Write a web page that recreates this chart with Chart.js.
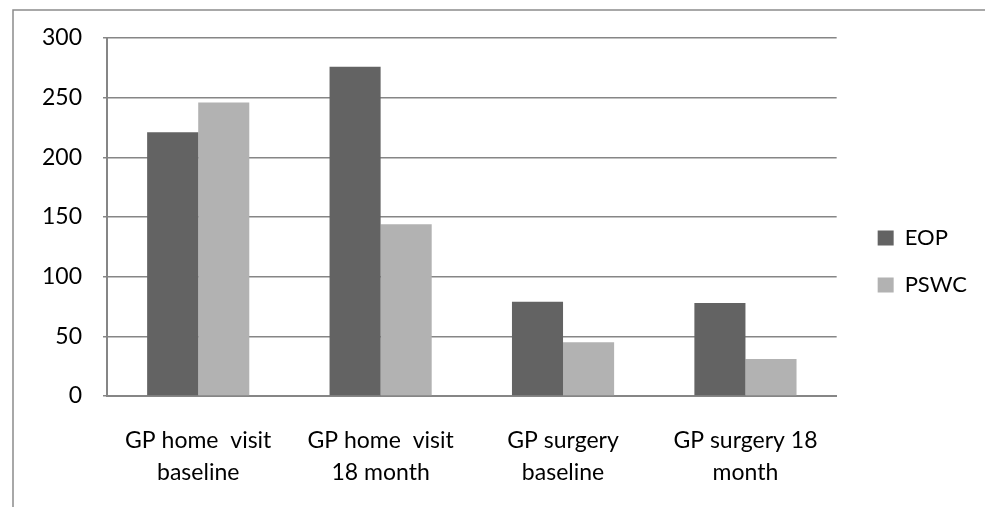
<!DOCTYPE html>
<html>
<head>
<meta charset="utf-8">
<script src="https://cdn.jsdelivr.net/npm/chart.js@4"></script>
<style>
  html, body { margin: 0; padding: 0; background: #ffffff; }
  #wrap { width: 986px; height: 507px; }
</style>
</head>
<body>
<div id="wrap"><canvas id="c" width="986" height="507"></canvas></div>
<script>
// Visit counts by setting and time point
const categories = [
  ['GP home  visit', 'baseline'],
  ['GP home  visit', '18 month'],
  ['GP surgery', 'baseline'],
  ['GP surgery 18', 'month']
];
const eopValues = [221, 276, 79, 78];
const pswcValues = [246, 144, 45, 31];
const seriesNames = ['EOP', 'PSWC'];

const AXIS_GREY = '#868686';
const FONT = { family: 'Lato, "Noto Sans", sans-serif', size: 23, lineHeight: 1.39 };

// Thin frame along the top and left of the figure
const frame = {
  id: 'frame',
  beforeDraw(chart) {
    const ctx = chart.ctx;
    ctx.save();
    ctx.fillStyle = '#ffffff';
    ctx.fillRect(0, 0, chart.width, chart.height);
    ctx.strokeStyle = '#8c8c8c';
    ctx.lineWidth = 1.5;
    ctx.beginPath();
    ctx.moveTo(13, chart.height);
    ctx.lineTo(13, 10);
    ctx.lineTo(chart.width - 1, 10);
    ctx.stroke();
    ctx.restore();
  }
};

// Nudge the legend a little away from the plot
const legendGap = {
  id: 'legendGap',
  afterLayout(chart) {
    if (chart.legend) {
      chart.legend.left += 16;
      chart.legend.right += 16;
    }
  }
};

new Chart(document.getElementById('c'), {
  type: 'bar',
  data: {
    labels: categories,
    datasets: [
      { label: seriesNames[0], data: eopValues, backgroundColor: '#636363', borderWidth: 0 },
      { label: seriesNames[1], data: pswcValues, backgroundColor: '#b2b2b2', borderWidth: 0 }
    ]
  },
  options: {
    responsive: false,
    animation: false,
    layout: { padding: { top: 38, bottom: 22, left: 0, right: 25 } },
    datasets: { bar: { categoryPercentage: 0.56, barPercentage: 1.0 } },
    plugins: {
      legend: {
        position: 'right',
        labels: {
          font: { family: FONT.family, size: 22 },
          color: '#000000',
          boxWidth: 16,
          boxHeight: 15,
          padding: 25
        }
      },
      tooltip: { enabled: false }
    },
    scales: {
      x: {
        grid: { display: false, drawTicks: false },
        border: { display: true, color: AXIS_GREY, width: 2 },
        ticks: { font: FONT, color: '#000000', padding: 29, maxRotation: 0, autoSkip: false },
        afterFit(scale) { scale.height = 89; }
      },
      y: {
        min: 0,
        max: 300,
        ticks: { stepSize: 50, font: FONT, color: '#000000', padding: 21 },
        grid: { color: AXIS_GREY, lineWidth: 1.5, tickLength: 4, drawTicks: true },
        border: { display: true, color: AXIS_GREY, width: 2 },
        afterFit(scale) { scale.width = 107; }
      }
    }
  },
  plugins: [frame, legendGap]
});
</script>
</body>
</html>
